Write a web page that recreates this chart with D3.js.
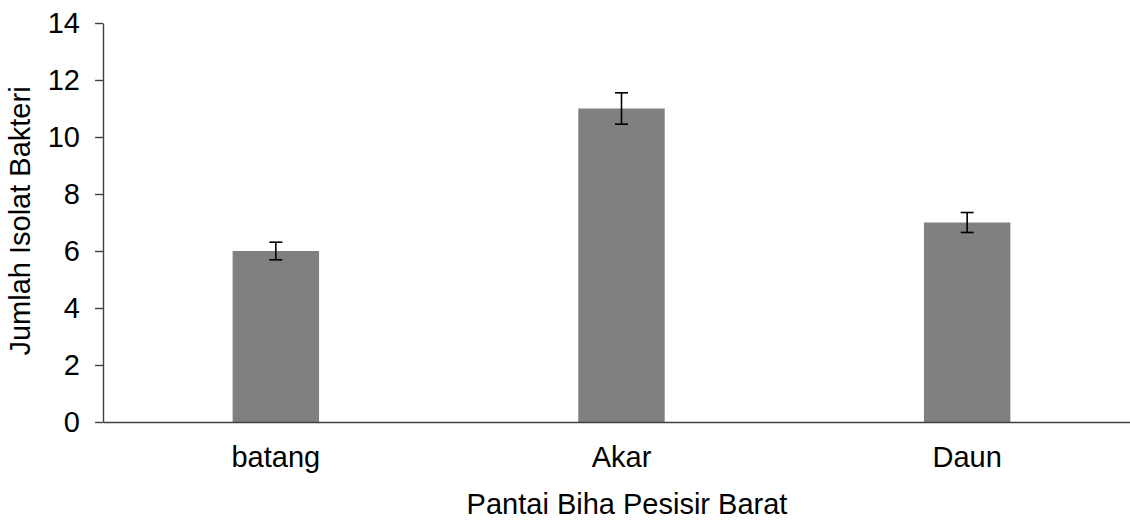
<!DOCTYPE html>
<html>
<head>
<meta charset="utf-8">
<script src="https://cdn.jsdelivr.net/npm/d3@7"></script>
<style>
  html, body { margin: 0; padding: 0; background: #fff; }
  svg { display: block; font-family: "Liberation Sans", Arial, sans-serif; }
</style>
</head>
<body>
<svg id="chart" width="1130" height="520"></svg>
<script>
const categories = ["batang", "Akar", "Daun"];
const values = [6, 11, 7];
const errors = [0.31, 0.55, 0.35];
const yTicks = [0, 2, 4, 6, 8, 10, 12, 14];
const xTitle = "Pantai Biha Pesisir Barat";
const yTitle = "Jumlah Isolat Bakteri";

const svg = d3.select("#chart");
const x = d3.scaleBand().domain(categories).range([103, 1140]).paddingInner(0.75).paddingOuter(0.375);
const y = d3.scaleLinear().domain([0, 14]).range([422, 23]);
const fontSize = 29;

// bars
svg.append("g").selectAll("rect").data(categories).join("rect")
  .attr("x", d => x(d))
  .attr("width", x.bandwidth())
  .attr("y", (d, i) => y(values[i]))
  .attr("height", (d, i) => y(0) - y(values[i]))
  .attr("fill", "#808080");

// error bars
const eg = svg.append("g").attr("stroke", "#000").attr("stroke-width", 1.6).attr("fill", "none");
categories.forEach((c, i) => {
  const cx = x(c) + x.bandwidth() / 2;
  const top = y(values[i] + errors[i]), bot = y(values[i] - errors[i]);
  eg.append("line").attr("x1", cx).attr("x2", cx).attr("y1", top).attr("y2", bot);
  eg.append("line").attr("x1", cx - 6.5).attr("x2", cx + 6.5).attr("y1", top).attr("y2", top);
  eg.append("line").attr("x1", cx - 6.5).attr("x2", cx + 6.5).attr("y1", bot).attr("y2", bot);
});

// y axis
const yAxis = svg.append("g").attr("transform", "translate(103,0)")
  .call(d3.axisLeft(y).tickValues(yTicks).tickSize(8).tickPadding(15).tickSizeOuter(0));
yAxis.select(".domain").attr("stroke", "#404040").attr("stroke-width", 1.4);
yAxis.selectAll(".tick line").attr("stroke", "#404040").attr("stroke-width", 1.4);
yAxis.selectAll("text").attr("font-size", fontSize).attr("fill", "#000").attr("font-family", "Liberation Sans, Arial, sans-serif");

// x axis
const xAxis = svg.append("g").attr("transform", "translate(0,422)")
  .call(d3.axisBottom(x).tickSize(0).tickSizeOuter(0));
xAxis.select(".domain").attr("stroke", "#404040").attr("stroke-width", 1.4);
xAxis.selectAll("text").attr("font-size", fontSize).attr("fill", "#000")
  .attr("font-family", "Liberation Sans, Arial, sans-serif")
  .attr("y", 45).attr("dy", 0);

// titles
svg.append("text").attr("x", 627).attr("y", 514).attr("text-anchor", "middle")
  .attr("font-size", fontSize).attr("fill", "#000").text(xTitle);
svg.append("text").attr("transform", "translate(30,221) rotate(-90)").attr("text-anchor", "middle")
  .attr("font-size", fontSize).attr("fill", "#000").text(yTitle);
</script>
</body>
</html>
